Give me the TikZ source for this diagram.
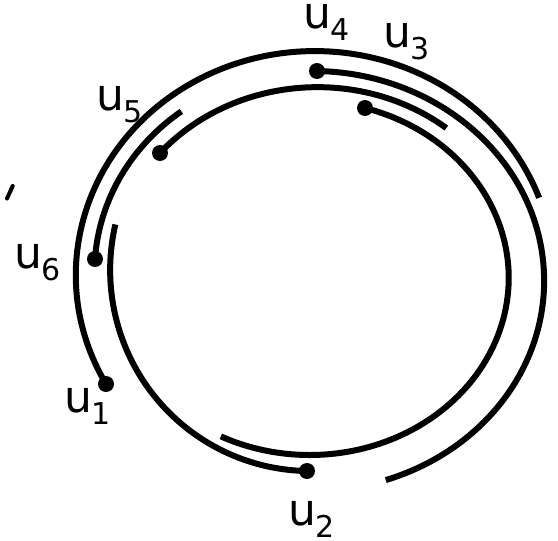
\documentclass[tikz,border=0pt]{standalone}
\usepackage{fontspec}
\setmainfont{DejaVu Sans}
\newcommand{\ulab}[1]{\fontsize{44pt}{44pt}\selectfont u\kern-1.5pt\raisebox{-12pt}{\fontsize{30pt}{30pt}\selectfont #1}}
\tikzset{
  arcl/.style={line width=6pt},
  dotn/.style={circle, fill=black, inner sep=0pt, minimum size=16pt},
  lab/.style={anchor=base west, inner sep=0pt, text height=25pt, text depth=13pt}
}
\begin{document}
\begin{tikzpicture}[x=1pt,y=1pt]
\useasboundingbox (0,0) rectangle (558,-541);
% dots
\node[dotn] (d1) at (106,-384) {};
\node[dotn] (d2) at (307,-471) {};
\node[dotn] (d3) at (365,-108) {};
\node[dotn] (d4) at (317,-71) {};
\node[dotn] (d5) at (160,-153) {};
\node[dotn] (d6) at (95,-259) {};
% arcs, each clockwise from its dot
\draw[arcl] (d1.center) arc[start angle=-150.9, end angle=-339.8, x radius=239pt, y radius=224pt] coordinate (e1);
\draw[arcl] (d2.center) arc[start angle=-90.9, end angle=-193.1, x radius=200pt, y radius=201pt] coordinate (e2);
\draw[arcl] (d3.center) arc[start angle=73.86, end angle=-116.5, x radius=199pt, y radius=177pt] coordinate (e3);
\draw[arcl] (d4.center) arc[start angle=88.8, end angle=-71.5, x radius=232pt, y radius=210pt] coordinate (e4);
\draw[arcl] (d5.center) arc[start angle=-220.8, end angle=-308.3, x radius=208pt, y radius=190pt] coordinate (e5);
\draw[arcl] (d6.center) arc[start angle=-183.7, end angle=-233.4, x radius=215pt, y radius=200pt] coordinate (e6);
% labels
\node[lab] (l1) at (64.5,-412) {\ulab{1}};
\node[lab] (l2) at (288.5,-525) {\ulab{2}};
\node[lab] (l3) at (383.5,-47) {\ulab{3}};
\node[lab] (l4) at (303.5,-28) {\ulab{4}};
\node[lab] (l5) at (96.5,-110) {\ulab{5}};
\node[lab] (l6) at (14.5,-268) {\ulab{6}};
% stray mark
\coordinate (m1) at (12.7,-186);
\coordinate (m2) at (7,-198.5);
\draw[line width=4pt, line cap=round] (m1) -- (m2);
\end{tikzpicture}
\end{document}
